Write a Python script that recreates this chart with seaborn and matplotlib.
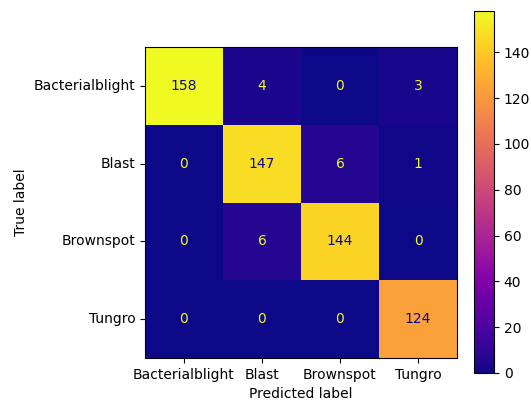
import numpy as np
import matplotlib
matplotlib.use("Agg")
import matplotlib.pyplot as plt
import seaborn as sns

# Data
labels = ["Bacterialblight", "Blast", "Brownspot", "Tungro"]
cm = np.array([[158, 4, 0, 3],
               [0, 147, 6, 1],
               [0, 6, 144, 0],
               [0, 0, 0, 124]])

cmap = plt.get_cmap("plasma")

fig = plt.figure(figsize=(5.31, 4.03), dpi=100)
ax = fig.add_axes([145 / 531, 45 / 403, 312 / 531, 311 / 403])
cax = fig.add_axes([474 / 531, 30 / 403, 20 / 531, 362 / 403])

sns.heatmap(cm, ax=ax, cbar_ax=cax, cmap=cmap, annot=True, fmt="d",
            xticklabels=labels, yticklabels=labels, square=False,
            annot_kws={"fontsize": 10})

# sklearn-style text colors
thresh = (cm.max() + cm.min()) / 2.0
for t, v in zip(ax.texts, cm.ravel()):
    t.set_color(cmap(0.0) if v > thresh else cmap(1.0))

for s in ax.spines.values():
    s.set_visible(True)
    s.set_linewidth(0.8)
cb = ax.collections[0].colorbar
cb.outline.set_visible(True)
cb.outline.set_linewidth(0.8)
cb.set_ticks([0, 20, 40, 60, 80, 100, 120, 140])
cax.tick_params(labelsize=10)

ax.set_yticklabels(labels, rotation=0)
ax.set_xticklabels(labels, rotation=0)
ax.tick_params(labelsize=10)
ax.set_xlabel("Predicted label")
ax.set_ylabel("True label")

fig.savefig("out.png", dpi=100)
